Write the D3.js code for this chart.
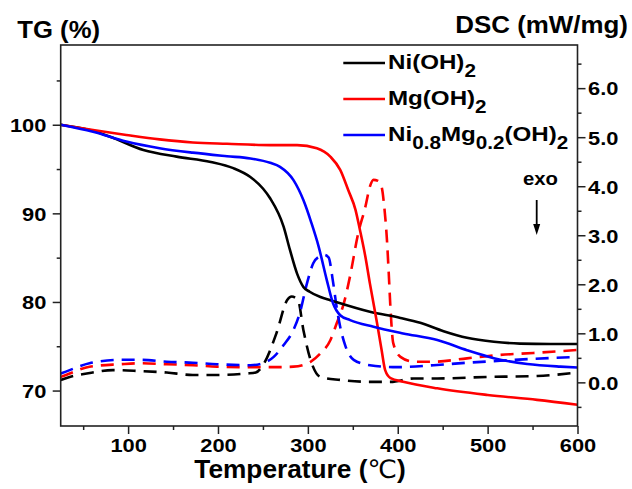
<!DOCTYPE html>
<html>
<head>
<meta charset="utf-8">
<script src="https://cdn.jsdelivr.net/npm/d3@7"></script>
<style>
  html, body { margin: 0; padding: 0; background: #fff; }
  svg { display: block; }
  text { font-family: "Liberation Sans", Arial, Helvetica, sans-serif; font-weight: bold; fill: #000; }
</style>
</head>
<body>
<svg id="chart" width="632" height="489"></svg>
<script>
// ---- Series data (temperature in °C, TG in %, DSC in mW/mg) ----
const seriesNames = ["Ni(OH)2", "Mg(OH)2", "Ni0.8Mg0.2(OH)2"];
const seriesColors = ["#000000", "#ff0000", "#0000ff"];

// TG curves (solid)
const niTgTemp = [25, 57, 80, 117, 154, 192, 217, 236, 250, 258, 273, 280, 288, 295, 302, 314, 325, 369, 403, 425, 451, 477, 507, 536, 570, 600];
const niTg     = [100, 99.4, 98.65, 97.15, 96.4, 95.8, 95.1, 94.1, 92.8, 91.7, 88.5, 85.9, 83.2, 81.7, 81.15, 80.55, 80.2, 78.9, 78.2, 77.65, 76.7, 75.95, 75.5, 75.3, 75.25, 75.25];

const mgTgTemp = [25, 61, 98, 135, 172, 210, 258, 288, 310, 325, 336, 345, 353, 358, 364, 369, 377, 382, 386, 392, 406, 444, 500, 555, 600];
const mgTg     = [100, 99.4, 98.85, 98.35, 98.0, 97.85, 97.7, 97.7, 97.35, 96.4, 94.9, 92.6, 90.4, 88.1, 85.1, 82.1, 77.6, 74.6, 72.3, 71.4, 71.0, 70.25, 69.5, 68.95, 68.4];

const nimgTgTemp = [25, 61, 98, 135, 172, 210, 236, 258, 269, 284, 295, 304, 312, 321, 328, 336, 347, 373, 406, 444, 477, 507, 544, 581, 600];
const nimgTg     = [100, 99.2, 98.1, 97.35, 96.85, 96.45, 96.2, 95.7, 95.25, 93.75, 91.5, 88.9, 86.25, 82.5, 79.85, 78.5, 77.95, 77.2, 76.45, 75.7, 74.55, 73.65, 73.0, 72.7, 72.6];

// DSC curves (dashed)
const niDscTemp = [25, 35, 54, 83, 113, 143, 172, 199, 232, 242, 251, 265, 277, 282, 289, 295, 303, 314, 336, 369, 392, 418, 444, 500, 555, 600];
const niDsc     = [0.05, 0.11, 0.18, 0.25, 0.23, 0.2, 0.15, 0.15, 0.18, 0.2, 0.38, 1.0, 1.68, 1.75, 1.68, 1.07, 0.46, 0.11, 0.05, 0.01, 0.01, 0.08, 0.08, 0.11, 0.13, 0.2];

const mgDscTemp = [25, 35, 57, 91, 113, 143, 172, 199, 236, 262, 284, 303, 314, 325, 332, 340, 347, 356, 364, 369, 373, 378, 382, 385, 388, 390, 392, 395, 403, 418, 440, 477, 514, 551, 600];
const mgDsc     = [0.11, 0.18, 0.32, 0.37, 0.39, 0.37, 0.35, 0.32, 0.31, 0.31, 0.32, 0.42, 0.59, 0.86, 1.2, 1.61, 2.17, 3.04, 3.58, 3.99, 4.13, 4.11, 3.99, 3.58, 2.9, 2.22, 1.48, 0.8, 0.52, 0.42, 0.42, 0.49, 0.56, 0.6, 0.66];

const nimgDscTemp = [25, 35, 57, 91, 113, 143, 172, 199, 236, 250, 262, 273, 284, 291, 299, 306, 313, 318, 323, 328, 332, 336, 342, 351, 369, 399, 440, 477, 514, 551, 600];
const nimgDsc     = [0.18, 0.25, 0.39, 0.46, 0.46, 0.42, 0.4, 0.37, 0.35, 0.39, 0.52, 0.76, 1.07, 1.41, 2.02, 2.43, 2.57, 2.6, 2.55, 2.05, 1.54, 1.13, 0.73, 0.46, 0.35, 0.31, 0.35, 0.4, 0.44, 0.48, 0.52];

// Axis ticks
const tempTicks = [100, 200, 300, 400, 500, 600];
const tempMinorTicks = [50, 150, 250, 350, 450, 550];
const tgTicks = [70, 80, 90, 100];
const tgMinorTicks = [75, 85, 95, 105];
const dscTicks = [0, 1, 2, 3, 4, 5, 6];
const dscMinorTicks = [-0.5, 0.5, 1.5, 2.5, 3.5, 4.5, 5.5, 6.5];

// ---- Layout ----
const plot = { left: 60.7, right: 577.5, top: 45, bottom: 426 };
const SX = 1.15;  // horizontal stretch for tick/legend lettering

const svg = d3.select("#chart");
svg.append("rect").attr("width", 632).attr("height", 489).attr("fill", "#fff");

const x = d3.scaleLinear().domain([25, 600]).range([plot.left, plot.right]);
const yTG = d3.scaleLinear().domain([66, 109]).range([plot.bottom, plot.top]);
const yDSC = d3.scaleLinear().domain([-0.89, 6.88]).range([plot.bottom, plot.top]);

svg.append("defs").append("clipPath").attr("id", "plotClip")
  .append("rect")
  .attr("x", plot.left).attr("y", plot.top)
  .attr("width", plot.right - plot.left).attr("height", plot.bottom - plot.top);

// ---- Curves ----
const zip = (ts, vs) => ts.map((t, i) => [t, vs[i]]);
const tgLine = d3.line().x(d => x(d[0])).y(d => yTG(d[1])).curve(d3.curveMonotoneX);
const dscLine = d3.line().x(d => x(d[0])).y(d => yDSC(d[1])).curve(d3.curveMonotoneX);

const curves = svg.append("g").attr("clip-path", "url(#plotClip)");

const dscSeries = [zip(niDscTemp, niDsc), zip(mgDscTemp, mgDsc), zip(nimgDscTemp, nimgDsc)];
const tgSeries = [zip(niTgTemp, niTg), zip(mgTgTemp, mgTg), zip(nimgTgTemp, nimgTg)];

curves.selectAll("path.dsc").data(dscSeries).join("path")
  .attr("class", "dsc")
  .attr("d", dscLine)
  .attr("fill", "none")
  .attr("stroke", (d, i) => seriesColors[i])
  .attr("stroke-width", 2.6)
  .attr("stroke-dasharray", "13,8");

curves.selectAll("path.tg").data(tgSeries).join("path")
  .attr("class", "tg")
  .attr("d", tgLine)
  .attr("fill", "none")
  .attr("stroke", (d, i) => seriesColors[i])
  .attr("stroke-width", 2.6)
  .attr("stroke-linejoin", "round");

// ---- Axes ----
const axisColor = "#222";
function styleAxis(g) {
  g.select(".domain").remove();
  g.selectAll(".tick line").attr("stroke", axisColor).attr("stroke-width", 1.5);
  g.selectAll("text").style("font-size", "19px").attr("fill", "#000");
}

// bottom
const gx = svg.append("g").attr("transform", `translate(0,${plot.bottom})`)
  .call(d3.axisBottom(x).tickValues(tempTicks).tickSize(8).tickFormat(d3.format("d")))
  .call(styleAxis);
gx.selectAll("text").attr("y", 26.5).attr("dy", 0).attr("transform", `scale(${SX},1)`);
svg.append("g").attr("transform", `translate(0,${plot.bottom})`)
  .call(d3.axisBottom(x).tickValues(tempMinorTicks).tickSize(4).tickFormat(""))
  .call(styleAxis);

// left (TG)
const gy = svg.append("g").attr("transform", `translate(${plot.left},0)`)
  .call(d3.axisLeft(yTG).tickValues(tgTicks).tickSize(8).tickFormat(d3.format("d")))
  .call(styleAxis);
gy.selectAll("text").attr("x", -14.3 / SX).attr("dy", "0.36em").attr("transform", `scale(${SX},1)`);
svg.append("g").attr("transform", `translate(${plot.left},0)`)
  .call(d3.axisLeft(yTG).tickValues(tgMinorTicks).tickSize(4).tickFormat(""))
  .call(styleAxis);

// right (DSC)
const gr = svg.append("g").attr("transform", `translate(${plot.right},0)`)
  .call(d3.axisRight(yDSC).tickValues(dscTicks).tickSize(8).tickFormat(d3.format(".1f")))
  .call(styleAxis);
gr.selectAll("text").attr("x", 10.5 / SX).attr("dy", "0.36em").attr("transform", `scale(${SX},1)`);
svg.append("g").attr("transform", `translate(${plot.right},0)`)
  .call(d3.axisRight(yDSC).tickValues(dscMinorTicks.filter(v => v >= -0.89 && v <= 6.88)).tickSize(4).tickFormat(""))
  .call(styleAxis);

// frame
svg.append("rect")
  .attr("x", plot.left).attr("y", plot.top)
  .attr("width", plot.right - plot.left).attr("height", plot.bottom - plot.top)
  .attr("fill", "none").attr("stroke", axisColor).attr("stroke-width", 1.6);

// ---- Axis titles ----
svg.append("g").attr("transform", "translate(17.3,37.7) scale(1.07,1)")
  .append("text").style("font-size", "24px").attr("text-anchor", "start").text("TG (%)");

svg.append("g").attr("transform", "translate(628,32.7) scale(1.08,1)")
  .append("text").style("font-size", "24px").attr("text-anchor", "end").text("DSC (mW/mg)");

const xt = svg.append("g").attr("transform", "translate(300,478) scale(1.05,1)")
  .append("text").style("font-size", "25px").attr("text-anchor", "middle");
xt.append("tspan").text("Temperature (");
xt.append("tspan").style("font-family", "'DejaVu Sans', sans-serif")
  .style("font-weight", "normal").text("℃");
xt.append("tspan").text(")");

// ---- exo marker ----
svg.append("g").attr("transform", "translate(540.5,185) scale(1.07,1)")
  .append("text").style("font-size", "19px").attr("text-anchor", "middle").text("exo");
svg.append("line").attr("x1", 536.7).attr("x2", 536.7).attr("y1", 200).attr("y2", 226)
  .attr("stroke", "#000").attr("stroke-width", 1.8);
svg.append("path").attr("d", "M533.2,224 L540.2,224 L536.7,235 Z").attr("fill", "#000");

// ---- Legend ----
const legendRowY = [63, 99, 135];
const legend = svg.append("g");
seriesNames.forEach((name, i) => {
  const row = legend.append("g").attr("transform", `translate(0,${legendRowY[i]})`);
  row.append("line").attr("x1", 343.3).attr("x2", 385).attr("y1", 0).attr("y2", 0)
    .attr("stroke", seriesColors[i]).attr("stroke-width", 2.6);
  const t = row.append("g").attr("transform", `translate(388,6) scale(${SX},1)`)
    .append("text").style("font-size", "21px");
  const parts = name.split(/(\d+(?:\.\d+)?)/).filter(s => s.length);
  let shifted = false;
  parts.forEach(p => {
    const isSub = /^\d/.test(p);
    const ts = t.append("tspan").text(p);
    if (isSub) {
      ts.style("font-size", "18px").attr("dy", shifted ? 0 : 8);
      shifted = true;
    } else {
      if (shifted) ts.attr("dy", -8);
      shifted = false;
    }
  });
});
</script>
</body>
</html>
